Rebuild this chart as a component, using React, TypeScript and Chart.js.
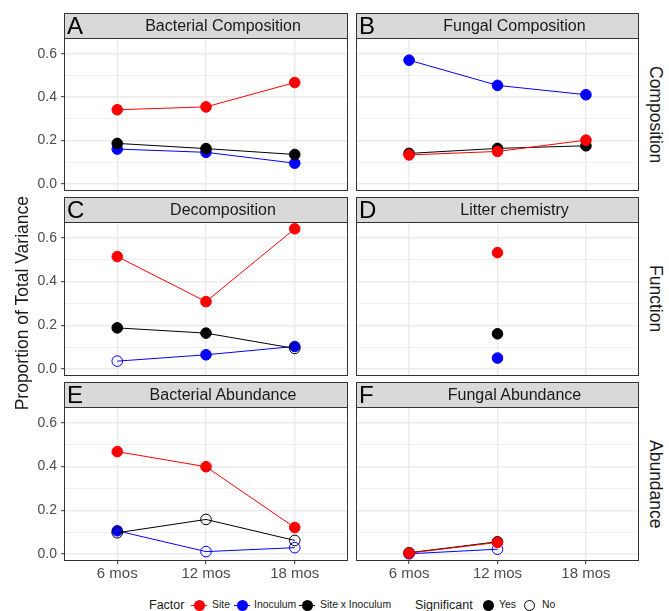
import React, { useEffect, useRef } from "react";
import { Chart, registerables } from "chart.js";
Chart.register(...registerables);

const FONT = "'Liberation Sans', Arial, Helvetica, sans-serif";
Chart.defaults.font.family = FONT;

// ---------- data ----------
const timeLabels = ["6 mos", "12 mos", "18 mos"];
const xTickValues = [1, 2, 3];
const yTickValues = [0, 0.1, 0.2, 0.3, 0.4, 0.5, 0.6];
const yMajorTicks = [0, 0.2, 0.4, 0.6];

const panelLetters = ["A", "B", "C", "D", "E", "F"];
const panelTitles = [
  "Bacterial Composition",
  "Fungal Composition",
  "Decomposition",
  "Litter chemistry",
  "Bacterial Abundance",
  "Fungal Abundance",
];
const rowLabels = ["Composition", "Function", "Abundance"];

const factorNames = ["Site", "Inoculum", "Site x Inoculum"];
const factorColors = ["#FF0000", "#0000FF", "#000000"];

// per panel A..F, per time point (6, 12, 18 mos)
const siteValues: (number | null)[][] = [
  [0.342, 0.355, 0.467],
  [0.134, 0.15, 0.202],
  [0.514, 0.308, 0.641],
  [null, 0.532, null],
  [0.468, 0.399, 0.121],
  [0.004, 0.053, null],
];
const inoculumValues: (number | null)[][] = [
  [0.161, 0.146, 0.096],
  [0.57, 0.454, 0.411],
  [0.036, 0.065, 0.103],
  [null, 0.05, null],
  [0.106, 0.011, 0.029],
  [0.001, 0.022, null],
];
const interactionValues: (number | null)[][] = [
  [0.187, 0.163, 0.136],
  [0.141, 0.164, 0.176],
  [0.188, 0.164, 0.094],
  [null, 0.161, null],
  [0.097, 0.158, 0.062],
  [0.006, 0.056, null],
];
const siteSignificant: boolean[][] = [
  [true, true, true],
  [true, true, true],
  [true, true, true],
  [true, true, true],
  [true, true, true],
  [true, true, true],
];
const inoculumSignificant: boolean[][] = [
  [true, true, true],
  [true, true, true],
  [false, true, true],
  [true, true, true],
  [true, false, false],
  [true, false, true],
];
const interactionSignificant: boolean[][] = [
  [true, true, true],
  [true, true, true],
  [true, true, false],
  [true, true, true],
  [false, false, false],
  [true, true, true],
];

// ---------- layout ----------
const Y_MIN = -0.032;
const Y_MAX = 0.672;
const colLeft = [64, 356];
const colWidth = [284, 283];
const rowTop = [38, 222, 407];
const rowHeight = [153, 154, 154];
const STRIP_H = 25;
const LEFT_AXIS_W = 64;
const BOTTOM_AXIS_H = 24;

const borderPlugin = {
  id: "panelBorder",
  afterDraw(chart: any) {
    const { ctx, chartArea } = chart;
    ctx.save();
    ctx.strokeStyle = "#333333";
    ctx.lineWidth = 1;
    ctx.strokeRect(
      Math.round(chartArea.left) + 0.5,
      Math.round(chartArea.top) + 0.5,
      Math.round(chartArea.right - chartArea.left) - 1,
      Math.round(chartArea.bottom - chartArea.top) - 1
    );
    ctx.restore();
  },
};

function zeroPad(s: any) {
  s.paddingTop = 0;
  s.paddingBottom = 0;
  s.paddingLeft = 0;
  s.paddingRight = 0;
}

function buildDataset(
  name: string,
  color: string,
  values: (number | null)[],
  sig: boolean[]
) {
  const pts: { x: number; y: number }[] = [];
  const bg: string[] = [];
  values.forEach((v, i) => {
    if (v !== null) {
      pts.push({ x: xTickValues[i], y: v });
      bg.push(sig[i] ? color : "rgba(0,0,0,0)");
    }
  });
  return {
    label: name,
    data: pts,
    borderColor: color,
    borderWidth: 1,
    pointRadius: 5.3,
    pointBorderWidth: 1,
    pointBackgroundColor: bg,
    pointBorderColor: color,
    showLine: true,
    fill: false,
    tension: 0,
  };
}

function Panel({ idx }: { idx: number }) {
  const ref = useRef<HTMLCanvasElement>(null);
  const col = idx % 2;
  const row = Math.floor(idx / 2);
  const showY = col === 0;
  const showX = row === 2;
  const canvasLeft = showY ? 0 : colLeft[col] - 1;
  const canvasTop = rowTop[row] - 1;
  const width = (showY ? LEFT_AXIS_W : 1) + colWidth[col] + 1;
  const height = 1 + rowHeight[row] + (showX ? BOTTOM_AXIS_H : 1);

  useEffect(() => {
    if (!ref.current) return;
    const datasets = [
      buildDataset(factorNames[0], factorColors[0], siteValues[idx], siteSignificant[idx]),
      buildDataset(factorNames[2], factorColors[2], interactionValues[idx], interactionSignificant[idx]),
      buildDataset(factorNames[1], factorColors[1], inoculumValues[idx], inoculumSignificant[idx]),
    ];
    const chart = new Chart(ref.current, {
      type: "line",
      data: { datasets },
      options: {
        animation: false,
        responsive: false,
        maintainAspectRatio: false,
        events: [],
        layout: {
          autoPadding: false,
          padding: { top: 1, right: 1, left: showY ? 0 : 1, bottom: showX ? 0 : 1 },
        },
        plugins: { legend: { display: false }, tooltip: { enabled: false } },
        scales: {
          x: {
            type: "linear",
            min: 0.4,
            max: 3.6,
            afterBuildTicks: (s: any) => {
              s.ticks = xTickValues.map((v) => ({ value: v }));
            },
            afterFit: (s: any) => {
              s.height = showX ? BOTTOM_AXIS_H : 0;
              zeroPad(s);
            },
            border: { display: false },
            grid: {
              color: "#EBEBEB",
              lineWidth: 1.4,
              drawTicks: showX,
              tickLength: 3,
              tickColor: "#333333",
              tickWidth: 1,
            },
            ticks: {
              display: showX,
              autoSkip: false,
              maxRotation: 0,
              padding: 1,
              color: "#4D4D4D",
              font: { size: 15 },
              callback: (v: any) => timeLabels[xTickValues.indexOf(Number(v))] ?? "",
            },
          },
          y: {
            type: "linear",
            min: Y_MIN,
            max: Y_MAX,
            afterBuildTicks: (s: any) => {
              s.ticks = yTickValues.map((v) => ({ value: v }));
            },
            afterFit: (s: any) => {
              s.width = showY ? LEFT_AXIS_W : 0;
              zeroPad(s);
            },
            border: { display: false },
            grid: {
              color: "#EBEBEB",
              lineWidth: (c: any) =>
                yMajorTicks.some((m) => Math.abs(m - c.tick?.value) < 1e-6) ? 1.4 : 0.7,
              drawTicks: showY,
              tickLength: 3,
              tickColor: (c: any) =>
                yMajorTicks.some((m) => Math.abs(m - c.tick?.value) < 1e-6)
                  ? "#333333"
                  : "rgba(0,0,0,0)",
              tickWidth: 1,
            },
            ticks: {
              display: showY,
              autoSkip: false,
              padding: 4,
              color: "#4D4D4D",
              font: { size: 14 },
              callback: (v: any) =>
                yMajorTicks.some((m) => Math.abs(m - Number(v)) < 1e-6)
                  ? Number(v).toFixed(1)
                  : "",
            },
          },
        },
      },
      plugins: [borderPlugin],
    } as any);
    return () => chart.destroy();
  }, [idx]);

  return (
    <>
      <canvas
        ref={ref}
        width={width}
        height={height}
        style={{ position: "absolute", left: canvasLeft, top: canvasTop, width, height }}
      />
      <div
        style={{
          position: "absolute",
          left: colLeft[col],
          top: rowTop[row] - STRIP_H,
          width: colWidth[col],
          height: STRIP_H + 1,
          boxSizing: "border-box",
          border: "1px solid #333333",
          background: "#D9D9D9",
        }}
      />
      <div
        style={{
          position: "absolute",
          left: colLeft[col],
          top: rowTop[row] - STRIP_H,
          width: colWidth[col],
          height: STRIP_H,
          boxSizing: "border-box",
          paddingLeft: 34,
          lineHeight: STRIP_H + "px",
          textAlign: "center",
          fontSize: 16,
          color: "#1A1A1A",
          whiteSpace: "nowrap",
        }}
      >
        {panelTitles[idx]}
      </div>
      <div
        style={{
          position: "absolute",
          left: colLeft[col] + 3,
          top: rowTop[row] - STRIP_H + 0.5,
          fontSize: 24,
          lineHeight: 1,
          color: "#000000",
        }}
      >
        {panelLetters[idx]}
      </div>
    </>
  );
}

function LegendKey({ cx, color }: { cx: number; color: string }) {
  return (
    <>
      <div
        style={{
          position: "absolute",
          left: cx - 8,
          top: 604.5,
          width: 16,
          height: 1,
          background: color,
        }}
      />
      <div
        style={{
          position: "absolute",
          left: cx - 5.5,
          top: 599.5,
          width: 11,
          height: 11,
          borderRadius: "50%",
          background: color,
        }}
      />
    </>
  );
}

function LegendText({ left, text, size }: { left: number; text: string; size: number }) {
  return (
    <div
      style={{
        position: "absolute",
        left,
        top: 596,
        height: 18,
        lineHeight: "18px",
        fontSize: size,
        color: "#1A1A1A",
        whiteSpace: "nowrap",
      }}
    >
      {text}
    </div>
  );
}

export default function App() {
  return (
    <div
      style={{
        position: "absolute",
        left: 0,
        top: 0,
        width: 669,
        height: 611,
        background: "#FFFFFF",
        fontFamily: FONT,
        overflow: "hidden",
      }}
    >
      {[0, 1, 2, 3, 4, 5].map((i) => (
        <Panel key={i} idx={i} />
      ))}

      {rowLabels.map((lab, r) => (
        <div
          key={lab}
          style={{
            position: "absolute",
            left: 645,
            top: rowTop[r],
            width: 20,
            height: rowHeight[r],
            display: "flex",
            alignItems: "center",
            justifyContent: "center",
          }}
        >
          <div
            style={{
              writingMode: "vertical-rl",
              fontSize: 17.5,
              color: "#1A1A1A",
              whiteSpace: "nowrap",
              lineHeight: 1,
            }}
          >
            {lab}
          </div>
        </div>
      ))}

      <div
        style={{
          position: "absolute",
          left: 13,
          top: 150,
          width: 20,
          height: 306,
          display: "flex",
          alignItems: "center",
          justifyContent: "center",
        }}
      >
        <div
          style={{
            writingMode: "vertical-rl",
            transform: "rotate(180deg)",
            fontSize: 17.5,
            color: "#1A1A1A",
            whiteSpace: "nowrap",
            lineHeight: 1,
          }}
        >
          Proportion of Total Variance
        </div>
      </div>

      <LegendText left={149} text="Factor" size={12.5} />
      <LegendKey cx={199} color={factorColors[0]} />
      <LegendText left={212} text={factorNames[0]} size={10.4} />
      <LegendKey cx={242} color={factorColors[1]} />
      <LegendText left={254} text={factorNames[1]} size={10.4} />
      <LegendKey cx={307} color={factorColors[2]} />
      <LegendText left={320} text={factorNames[2]} size={10.4} />
      <LegendText left={415} text="Significant" size={12.5} />
      <div
        style={{
          position: "absolute",
          left: 482.5,
          top: 599.5,
          width: 11,
          height: 11,
          borderRadius: "50%",
          background: "#000000",
        }}
      />
      <LegendText left={499} text="Yes" size={10.4} />
      <div
        style={{
          position: "absolute",
          left: 523.5,
          top: 599.5,
          width: 11,
          height: 11,
          boxSizing: "border-box",
          borderRadius: "50%",
          border: "1px solid #000000",
        }}
      />
      <LegendText left={542} text="No" size={10.4} />
    </div>
  );
}
